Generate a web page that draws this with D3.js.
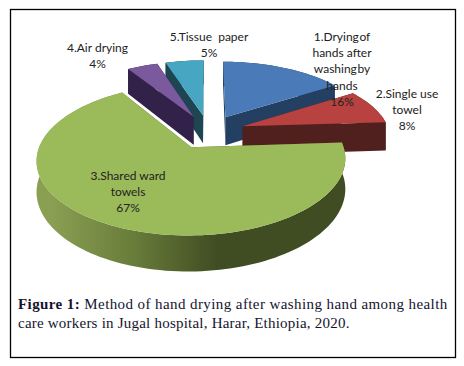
<!DOCTYPE html>
<html>
<head>
<meta charset="utf-8">
<script src="https://cdnjs.cloudflare.com/ajax/libs/d3/7.8.5/d3.min.js"></script>
<style>
html, body { margin: 0; padding: 0; background: #fff; }
svg { display: block; }
.lbl { font-family: Lato, "Open Sans", sans-serif; font-size: 12px; fill: #222; text-anchor: middle; white-space: pre; }
.cap { font-family: "Liberation Serif", serif; font-size: 15px; fill: #14142e; }
</style>
</head>
<body>
<div id="chart"></div>
<script>
// data
var categories = ['1.Drying of hands after washing by hands', '2.Single use towel', '3.Shared ward towels', '4.Air drying', '5.Tissue paper'];
var percents = [16, 8, 67, 4, 5];
var labelLines = [['1.Drying of', 'hands after', 'washing by', 'hands'], ['2.Single use', 'towel'], ['3.Shared ward', 'towels'], ['4.Air drying'], ['5.Tissue  paper']];
var topColors = ['#4a7ab8', '#b8423f', '#9bba59', '#7a5a9c', '#47a7c2'];
var sideColors = ['#233f62', '#50201f', '#4c5a2b', '#32224a', '#1d4652'];
var captionBold = 'Figure 1:';
var captionLines = ['Method of hand drying after washing hand among health', 'care workers in Jugal hospital, Harar, Ethiopia, 2020.'];

var width = 464, height = 366;
var cx = 208.5, cy = 131.5, rx = 165, ry = 77;
var persp = 0.18, explode = 0.22, radius = 0.89, depth = 29;
var drawOrder = [4, 3, 0, 1, 2];
var labelPos = [[342, 41], [407, 98], [128, 180], [97.5, 52], [209, 41]];

var svg = d3.select('#chart').append('svg').attr('width', width).attr('height', height);

var sx = d3.scaleLinear().domain([-1, 1]).range([cx - rx, cx + rx]);
var sy = d3.scaleLinear().domain([-1, 1]).range([cy - ry, cy + ry]);
var line = d3.line().x(function(d) { return d[0]; }).y(function(d) { return d[1]; });

var arcs = d3.pie().sort(null)(percents);

// ground plane to screen, with a little perspective; h = 1 is the lower face
function project(u, v, h) {
	var w = 1 - persp * v;
	return [sx(u / w), sy(v / w) + (h ? depth / w : 0)];
}
function rimPoint(a, ang, r, h) {
	var mid = (a.startAngle + a.endAngle) / 2;
	return project(explode * Math.sin(mid) + r * Math.sin(ang), -explode * Math.cos(mid) - r * Math.cos(ang), h);
}
function rim(a, h) {
	var n = Math.ceil((a.endAngle - a.startAngle) * 30);
	return d3.range(n + 1).map(function(i) {
		return rimPoint(a, a.startAngle + (a.endAngle - a.startAngle) * i / n, radius, h);
	});
}

var grad = svg.append('defs').append('linearGradient').attr('id', 'greenWall')
	.attr('gradientUnits', 'userSpaceOnUse')
	.attr('x1', sx(-0.95)).attr('x2', sx(0.05)).attr('y1', 0).attr('y2', 0);
grad.append('stop').attr('offset', '0').attr('stop-color', '#8a9f52');
grad.append('stop').attr('offset', '0.5').attr('stop-color', '#687c3a');
grad.append('stop').attr('offset', '1').attr('stop-color', '#404d22');

svg.append('rect').attr('x', 10.5).attr('y', 9.5).attr('width', 445).attr('height', 348)
	.attr('fill', '#fff').attr('stroke', '#000').attr('stroke-width', 1.3);

drawOrder.forEach(function(i) {
	var a = arcs[i];
	var side = i == 2 ? 'url(#greenWall)' : sideColors[i];
	var g = svg.append('g');
	var wall = rim(a, 0).concat(rim(a, 1).reverse());
	var faces = [a.startAngle, a.endAngle].map(function(ang) {
		return [rimPoint(a, ang, 0, 0), rimPoint(a, ang, radius, 0), rimPoint(a, ang, radius, 1), rimPoint(a, ang, 0, 1)];
	});
	var near = Math.cos((a.startAngle + a.endAngle) / 2) < 0;
	function drawWall() { g.append('path').attr('d', line(wall) + 'Z').attr('fill', side); }
	function drawFaces() {
		faces.forEach(function(f) { g.append('path').attr('d', line(f) + 'Z').attr('fill', sideColors[i]); });
	}
	if (near) { drawFaces(); drawWall(); } else { drawWall(); drawFaces(); }
	g.append('path').attr('d', line([rimPoint(a, 0, 0, 0)].concat(rim(a, 0))) + 'Z').attr('fill', topColors[i]);
});

categories.forEach(function(name, i) {
	var t = svg.append('text').attr('class', 'lbl');
	labelLines[i].concat([percents[i] + '%']).forEach(function(s, k) {
		// the picture squeezes the gap in these two lines
		var tight = s == '1.Drying of' || s == 'washing by';
		t.append('tspan').attr('x', labelPos[i][0]).attr('y', labelPos[i][1] + k * 16.2)
			.attr('word-spacing', tight ? -2.5 : 0).text(s);
	});
});

var cap1 = svg.append('text').attr('class', 'cap').attr('x', 18).attr('y', 309).attr('letter-spacing', 0.41);
cap1.append('tspan').attr('font-weight', 'bold').text(captionBold);
cap1.append('tspan').text(' ' + captionLines[0]);
svg.append('text').attr('class', 'cap').attr('x', 18).attr('y', 328).attr('letter-spacing', 0.22).text(captionLines[1]);
</script>
</body>
</html>
